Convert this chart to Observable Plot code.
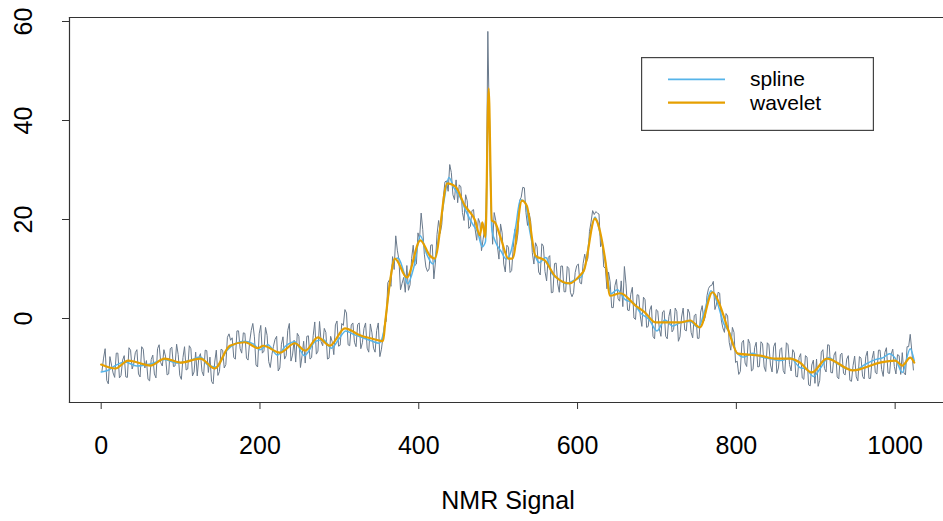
<!DOCTYPE html>
<html><head><meta charset="utf-8">
<script src="https://cdn.jsdelivr.net/npm/d3@7"></script>
<script src="https://cdn.jsdelivr.net/npm/@observablehq/plot@0.6"></script>
<style>
body{margin:0;background:#fff;font-family:"Liberation Sans",Arial,Helvetica,sans-serif;}
#wrap{position:relative;width:943px;height:521px;overflow:hidden;}
#legend{position:absolute;left:641px;top:57px;}
</style></head><body>
<div id="wrap"></div>
<script>
// noisy NMR signal read at indices 3,7,11,... (step 4)
const signalA = [
-8.0,-12.5,-7.7,-11.0,-7.0,-12.0,-8.4,-11.8,-5.9,-10.2,-6.9,-11.2,-5.7,-10.0,-12.3,-8.3,
-11.2,-6.1,-8.9,-6.3,-11.4,-6.1,-9.7,-5.2,-11.5,-7.9,-10.4,-5.5,-11.6,-6.8,-7.9,-10.7,
-6.4,-10.9,-12.7,-8.8,-11.5,-6.2,-10.0,-3.8,-4.4,-7.9,-2.5,-6.1,-2.9,-8.0,-4.7,-1.0,
-9.4,-3.1,-7.0,-1.8,-8.7,-7.3,-4.2,-10.6,-5.2,-8.2,-2.4,-8.6,-4.4,-3.0,-9.9,-4.6,
-3.6,-8.2,-3.5,-7.2,-0.6,-5.5,-2.8,-8.0,-4.7,-1.3,-5.6,-1.0,1.8,-5.3,-1.3,-4.8,
-1.2,-6.1,-2.0,-6.0,-1.1,-6.0,-2.4,-7.7,-3.6,-0.6,7.8,12.5,16.7,11.9,7.1,5.3,
5.7,12.1,10.7,17.3,21.3,13.0,9.5,14.8,8.0,17.0,17.2,24.6,27.8,31.1,25.0,28.0,
27.0,21.4,25.0,18.2,21.8,18.0,20.2,13.7,18.0,58.0,24.0,21.4,14.6,19.1,11.0,14.8,
9.3,14.4,15.0,23.8,26.5,21.4,21.3,13.3,15.3,9.4,15.1,9.5,12.3,5.2,11.1,7.0,
10.6,5.4,10.5,5.3,5.2,10.7,7.2,11.1,11.3,17.6,21.8,21.6,21.1,15.5,10.2,9.4,
2.2,6.6,4.0,7.6,10.5,1.7,4.9,0.1,4.8,0.5,4.3,-1.8,1.7,-3.6,1.8,-2.1,
1.3,-3.6,0.4,-2.7,2.1,-4.6,0.3,-2.3,1.9,-2.8,0.6,-4.0,1.3,-0.5,4.6,6.6,
7.5,2.9,5.1,-1.9,1.0,-4.8,-1.8,-8.9,-11.3,-4.9,-9.0,-4.2,-10.6,-5.9,-9.8,-4.7,
-9.8,-4.9,-9.4,-5.7,-11.1,-6.3,-10.5,-4.9,-9.3,-6.3,-11.7,-7.9,-12.0,-7.5,-13.4,-9.4,
-13.1,-13.7,-6.8,-10.1,-5.3,-10.9,-7.4,-11.8,-7.3,-11.1,-8.2,-12.5,-9.5,-11.8,-7.7,-11.7,
-7.7,-12.1,-8.1,-10.9,-6.4,-10.3,-6.9,-11.0,-7.2,-9.7,-7.3,-11.3,-11.0,-5.7,-3.2,-10.4
];
const signalAStart = 3;
// noisy NMR signal read at indices 1,5,9,... (step 4)
const signalB = [
-10.6,-6.1,-13.2,-9.4,-11.9,-7.0,-11.5,-7.5,-11.9,-6.4,-9.2,-6.3,-11.8,-6.2,-8.5,-12.6,
-7.4,-12.0,-5.3,-9.6,-7.6,-11.2,-5.8,-9.6,-7.3,-12.3,-5.7,-10.2,-6.1,-10.8,-11.6,-7.1,
-11.6,-6.5,-7.8,-13.2,-6.4,-10.7,-6.4,-9.3,-3.1,-3.9,-8.2,-2.5,-7.0,-3.0,-8.4,-2.4,
-3.7,-9.8,-1.4,-6.6,-3.4,-9.9,-5.6,-3.6,-10.0,-3.7,-7.5,-1.0,-7.4,-8.8,-3.6,-7.5,
-9.0,-3.5,-7.9,-0.7,-6.6,-4.7,-2.0,-8.2,-3.6,-7.3,-0.5,-5.4,-1.4,1.1,-5.5,-0.9,
-5.7,-0.9,-4.9,-0.9,-6.8,-2.9,-6.8,-0.9,-6.2,-1.0,7.2,6.5,9.9,13.8,5.8,8.3,
10.7,6.8,14.8,11.0,16.0,18.0,10.4,10.0,14.9,11.4,19.8,19.0,27.6,25.7,29.5,24.0,
23.4,26.6,19.8,23.8,18.6,22.0,15.8,19.3,16.0,22.0,38.0,15.0,19.8,12.0,17.3,9.4,
14.4,9.7,18.0,17.3,24.5,26.4,18.8,19.6,11.0,14.5,8.8,14.6,7.6,12.7,5.3,11.2,
5.3,10.6,5.4,10.1,4.4,9.3,11.0,7.0,13.0,12.2,19.5,21.0,21.3,14.5,10.4,6.0,
7.4,2.2,7.9,3.5,2.4,7.0,1.6,6.3,-0.2,4.7,-1.6,3.8,-1.6,2.6,-4.1,1.5,
-3.6,1.6,-4.1,1.9,-2.2,1.4,-3.7,2.1,-2.5,1.1,-3.9,0.9,-4.0,2.6,0.4,6.1,
6.7,1.8,5.3,-0.3,-2.8,0.5,-6.4,-2.8,-8.6,-10.7,-4.4,-9.7,-5.1,-10.3,-4.8,-9.7,
-5.1,-10.7,-5.3,-10.8,-4.9,-10.0,-5.9,-11.2,-5.3,-10.6,-6.9,-11.8,-7.1,-12.3,-7.8,-13.6,
-8.4,-8.2,-12.5,-6.3,-10.8,-5.4,-11.0,-6.7,-12.2,-7.0,-11.4,-7.5,-12.7,-7.6,-12.6,-8.0,
-12.2,-6.6,-12.1,-6.6,-11.2,-6.4,-11.7,-5.9,-11.1,-6.2,-11.2,-7.5,-6.9,-11.4,-5.7,-6.6
];
const signalBStart = 1;
const signalStep = 4;

const splineX = [0,8,18,30,45,62,80,95,110,125,135,145,158,170,181,192,200,210,222,232,244,256,270,280,290,300,308,318,328,340,350,356,362,368,374,380,386,394,402,410,418,426,432,438,444,452,460,468,474,480,484,488,492,498,504,510,516,522,528,534,540,546,552,560,568,576,586,596,604,610,616,622,628,636,642,650,660,670,680,690,700,710,720,730,742,752,760,768,776,784,792,800,810,820,832,845,856,868,880,888,897,906,916,926,940,950,962,975,985,993,1000,1009,1019,1024];
const splineY = [-10.8,-10.5,-9.5,-8.8,-9.6,-9.2,-8.3,-9.0,-8.6,-7.8,-9.5,-9.8,-6.5,-5.0,-4.6,-5.2,-6.3,-5.3,-7.4,-5.6,-4.7,-7.5,-4.6,-4.3,-6.0,-4.0,-2.5,-3.2,-3.8,-4.5,-5.0,-2.5,5.0,11.5,12.2,10.0,7.0,10.5,16.7,13.0,11.0,17.5,24.0,28.5,26.5,24.5,21.5,19.0,17.5,14.5,15.5,45.0,18.0,15.0,13.5,12.0,13.5,18.5,24.0,23.5,17.5,13.0,11.3,12.3,9.0,8.0,7.0,7.8,8.3,11.0,17.0,20.5,17.5,10.5,5.0,5.8,3.8,3.2,1.0,-0.2,-2.5,-0.3,-1.5,-0.8,-0.6,-1.8,1.5,5.6,3.2,-1.0,-3.0,-6.8,-7.8,-7.0,-7.8,-8.2,-8.5,-8.0,-9.9,-10.2,-11.7,-10.0,-7.9,-9.0,-10.2,-10.4,-9.3,-8.3,-7.9,-7.1,-8.0,-10.9,-6.1,-8.5];

const waveletX = [0,18,34,62,80,100,125,143,162,181,198,204,225,244,257,273,288,307,326,349,355,358,364,370,385,402,414,420,436,446,458,471,477,480,484,488,492,496,503,513,518,530,536,547,559,572,590,603,608,622,624,635,641,654,673,685,698,729,742,754,770,777,790,802,830,849,868,880,895,914,947,981,1000,1009,1019,1024];
const waveletY = [-9.3,-10.1,-8.5,-9.5,-8.1,-8.9,-8.1,-10.1,-5.5,-4.8,-6.0,-5.5,-6.9,-5.0,-6.5,-3.8,-5.5,-2.0,-3.4,-4.4,-4.6,-0.4,7.7,12.1,8.3,15.8,12.7,12.1,27.3,26.7,22.8,19.8,16.8,19.4,16.4,46.5,19.8,19.4,16.4,12.1,12.1,23.8,22.8,12.7,11.7,8.5,7.1,8.7,9.7,20.2,19.8,11.7,4.6,5.1,2.6,1.2,-0.8,-0.8,-0.4,-1.8,5.3,3.6,-2.4,-7.1,-7.5,-8.1,-8.1,-8.9,-10.9,-8.1,-10.5,-8.9,-8.5,-9.5,-7.9,-8.9];

const xTicks = [0, 200, 400, 600, 800, 1000];
const yTicks = [0, 20, 40, 60];
const seriesNames = ["spline", "wavelet"];
const seriesColors = ["#56B4E9", "#E69F00"];
const xTitle = "NMR Signal";

const noisy = [
  ...signalA.map((v, i) => ({x: signalAStart + i * signalStep, y: v})),
  ...signalB.map((v, i) => ({x: signalBStart + i * signalStep, y: v}))
].sort((a, b) => a.x - b.x);
const spline = splineX.map((x, i) => ({x, y: splineY[i]}));
const wavelet = waveletX.map((x, i) => ({x, y: waveletY[i]}));

const font = "'Liberation Sans', Arial, Helvetica, sans-serif";

const chart = Plot.plot({
  width: 943,
  height: 521,
  marginLeft: 69,
  marginRight: 0,
  marginTop: 17,
  marginBottom: 119,
  style: {fontFamily: font, fontSize: "25px", color: "#000", background: "#fff"},
  x: {domain: [-39.9, 1060.9], label: null},
  y: {domain: [-16.97, 60.81], label: null},
  marks: [
    Plot.lineY(noisy, {x: "x", y: "y", stroke: "#6a7a8c", strokeWidth: 1}),
    Plot.lineY(spline, {x: "x", y: "y", stroke: seriesColors[0], strokeWidth: 1.5, curve: "monotone-x"}),
    Plot.lineY(wavelet, {x: "x", y: "y", stroke: seriesColors[1], strokeWidth: 2.2, curve: "monotone-x"}),
    Plot.frame({anchor: "left", stroke: "#333", strokeWidth: 1.2}),
    Plot.frame({anchor: "top", stroke: "#333", strokeWidth: 1.2}),
    Plot.frame({anchor: "bottom", stroke: "#333", strokeWidth: 1.2}),
    Plot.axisX({ticks: xTicks, tickSize: 7, tickPadding: 27, stroke: "#333", fill: "#000", fontSize: 25, label: null, tickFormat: d => String(d)}),
    Plot.axisY({ticks: yTicks, tickSize: 7, stroke: "#333", tickFormat: () => "", label: null}),
    Plot.text(yTicks, {y: d => d, text: d => String(d), frameAnchor: "left", dx: -46, rotate: -90, textAnchor: "middle", lineAnchor: "middle", fontSize: 25, fill: "#000"}),
    Plot.text([xTitle], {text: d => d, frameAnchor: "bottom", dx: 1.5, dy: 98, lineAnchor: "middle", textAnchor: "middle", fontSize: 25, fill: "#000"})
  ]
});
const wrap = document.getElementById("wrap");
wrap.appendChild(chart);

// legend box
const ns = "http://www.w3.org/2000/svg";
const lg = document.createElementNS(ns, "svg");
lg.setAttribute("id", "legend");
lg.setAttribute("width", 233);
lg.setAttribute("height", 74);
lg.innerHTML = `<rect x="0.6" y="0.6" width="231.8" height="72.8" fill="#fff" stroke="#444" stroke-width="1.2"/>`;
const rowY = [22.3, 45.7];
seriesNames.forEach((name, i) => {
  const l = document.createElementNS(ns, "line");
  l.setAttribute("x1", 27); l.setAttribute("x2", 84);
  l.setAttribute("y1", rowY[i]); l.setAttribute("y2", rowY[i]);
  l.setAttribute("stroke", seriesColors[i]); l.setAttribute("stroke-width", i === 0 ? 1.8 : 2.2);
  lg.appendChild(l);
  const t = document.createElementNS(ns, "text");
  t.setAttribute("x", 109); t.setAttribute("y", rowY[i] + 7);
  t.setAttribute("font-size", "21px"); t.setAttribute("font-family", font); t.setAttribute("fill", "#000");
  t.textContent = name;
  lg.appendChild(t);
});
wrap.appendChild(lg);
</script>
</body></html>
